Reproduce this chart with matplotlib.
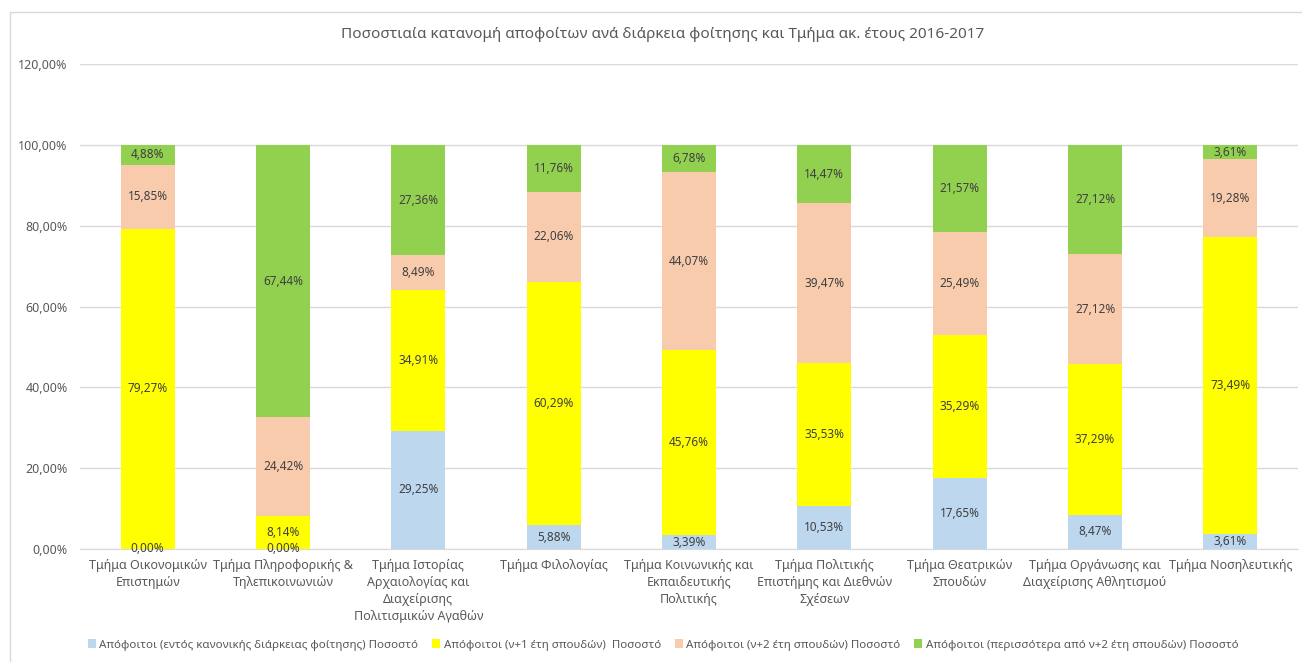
import matplotlib
matplotlib.use("Agg")
import matplotlib.pyplot as plt
from matplotlib.patches import Rectangle, Patch
import numpy as np

plt.rcParams['font.family'] = ['Noto Sans', 'DejaVu Sans']

categories = [
    "Τμήμα Οικονομικών\nΕπιστημών",
    "Τμήμα Πληροφορικής &\nΤηλεπικοινωνιών",
    "Τμήμα Ιστορίας\nΑρχαιολογίας και\nΔιαχείρισης\nΠολιτισμικών Αγαθών",
    "Τμήμα Φιλολογίας",
    "Τμήμα Κοινωνικής και\nΕκπαιδευτικής\nΠολιτικής",
    "Τμήμα Πολιτικής\nΕπιστήμης και Διεθνών\nΣχέσεων",
    "Τμήμα Θεατρικών\nΣπουδών",
    "Τμήμα Οργάνωσης και\nΔιαχείρισης Αθλητισμού",
    "Τμήμα Νοσηλευτικής",
]
series_names = [
    "Απόφοιτοι (εντός κανονικής διάρκειας φοίτησης) Ποσοστό",
    "Απόφοιτοι (ν+1 έτη σπουδών)  Ποσοστό",
    "Απόφοιτοι (ν+2 έτη σπουδών) Ποσοστό",
    "Απόφοιτοι (περισσότερα από ν+2 έτη σπουδών) Ποσοστό",
]
normal = [0.00, 0.00, 29.25, 5.88, 3.39, 10.53, 17.65, 8.47, 3.61]
plus1 = [79.27, 8.14, 34.91, 60.29, 45.76, 35.53, 35.29, 37.29, 73.49]
plus2 = [15.85, 24.42, 8.49, 22.06, 44.07, 39.47, 25.49, 27.12, 19.28]
more = [4.88, 67.44, 27.36, 11.76, 6.78, 14.47, 21.57, 27.12, 3.61]
colors = ["#BDD7EE", "#FFFF00", "#F8CBAD", "#92D050"]
title = "Ποσοστιαία κατανομή αποφοίτων ανά διάρκεια φοίτησης και Τμήμα ακ. έτους 2016-2017"

W, H = 1302, 662
fig = plt.figure(figsize=(W / 100, H / 100), dpi=100)
fig.patches.append(Rectangle((10 / W, -0.05), 1.1, (H - 12) / H + 0.05,
                             transform=fig.transFigure, fill=False,
                             edgecolor="#D9D9D9", linewidth=1))
ax = fig.add_axes([80 / W, 113 / H, (1298 - 80) / W, (549 - 64) / H])

txtc = "#595959"
x = np.arange(len(categories))
bottom = np.zeros(len(categories))
for vals, col in zip([normal, plus1, plus2, more], colors):
    v = np.array(vals) / 100
    ax.bar(x, v, 0.4, bottom=bottom, color=col, zorder=2)
    for xi, b, vi in zip(x, bottom, v):
        ax.text(xi, b + vi / 2, f"{vi*100:.2f}%".replace(".", ","),
                ha="center", va="center", fontsize=8.5, color="#404040", zorder=3)
    bottom += v

ax.set_xlim(-0.5, len(categories) - 0.5)
ax.set_ylim(0, 1.2)
yt = np.arange(0, 1.21, 0.2)
ax.set_yticks(yt)
ax.set_yticklabels([f"{t*100:.2f}%".replace(".", ",") for t in yt], fontsize=9, color=txtc)
ax.set_xticks(x)
ax.set_xticklabels(categories, fontsize=9, color=txtc, linespacing=1.4)
ax.tick_params(axis="both", length=0)
ax.tick_params(axis="y", pad=9)
ax.tick_params(axis="x", pad=7)
ax.grid(axis="y", color="#D9D9D9", linewidth=1, zorder=0)
for s in ["top", "right", "left"]:
    ax.spines[s].set_visible(False)
ax.spines["bottom"].set_color("#D9D9D9")

fig.text(663 / W, 1 - 35 / H, title, ha="center", va="center", fontsize=11, color=txtc)

handles = [Patch(facecolor=c, edgecolor="none") for c in colors]
fig.legend(handles, series_names, loc="center", bbox_to_anchor=(663 / W, 1 - 645 / H),
           ncol=4, frameon=False, fontsize=8.3, labelcolor=txtc,
           handlelength=0.7, handleheight=0.7, handletextpad=0.3, columnspacing=1.2)

fig.savefig("out.png", dpi=100)
